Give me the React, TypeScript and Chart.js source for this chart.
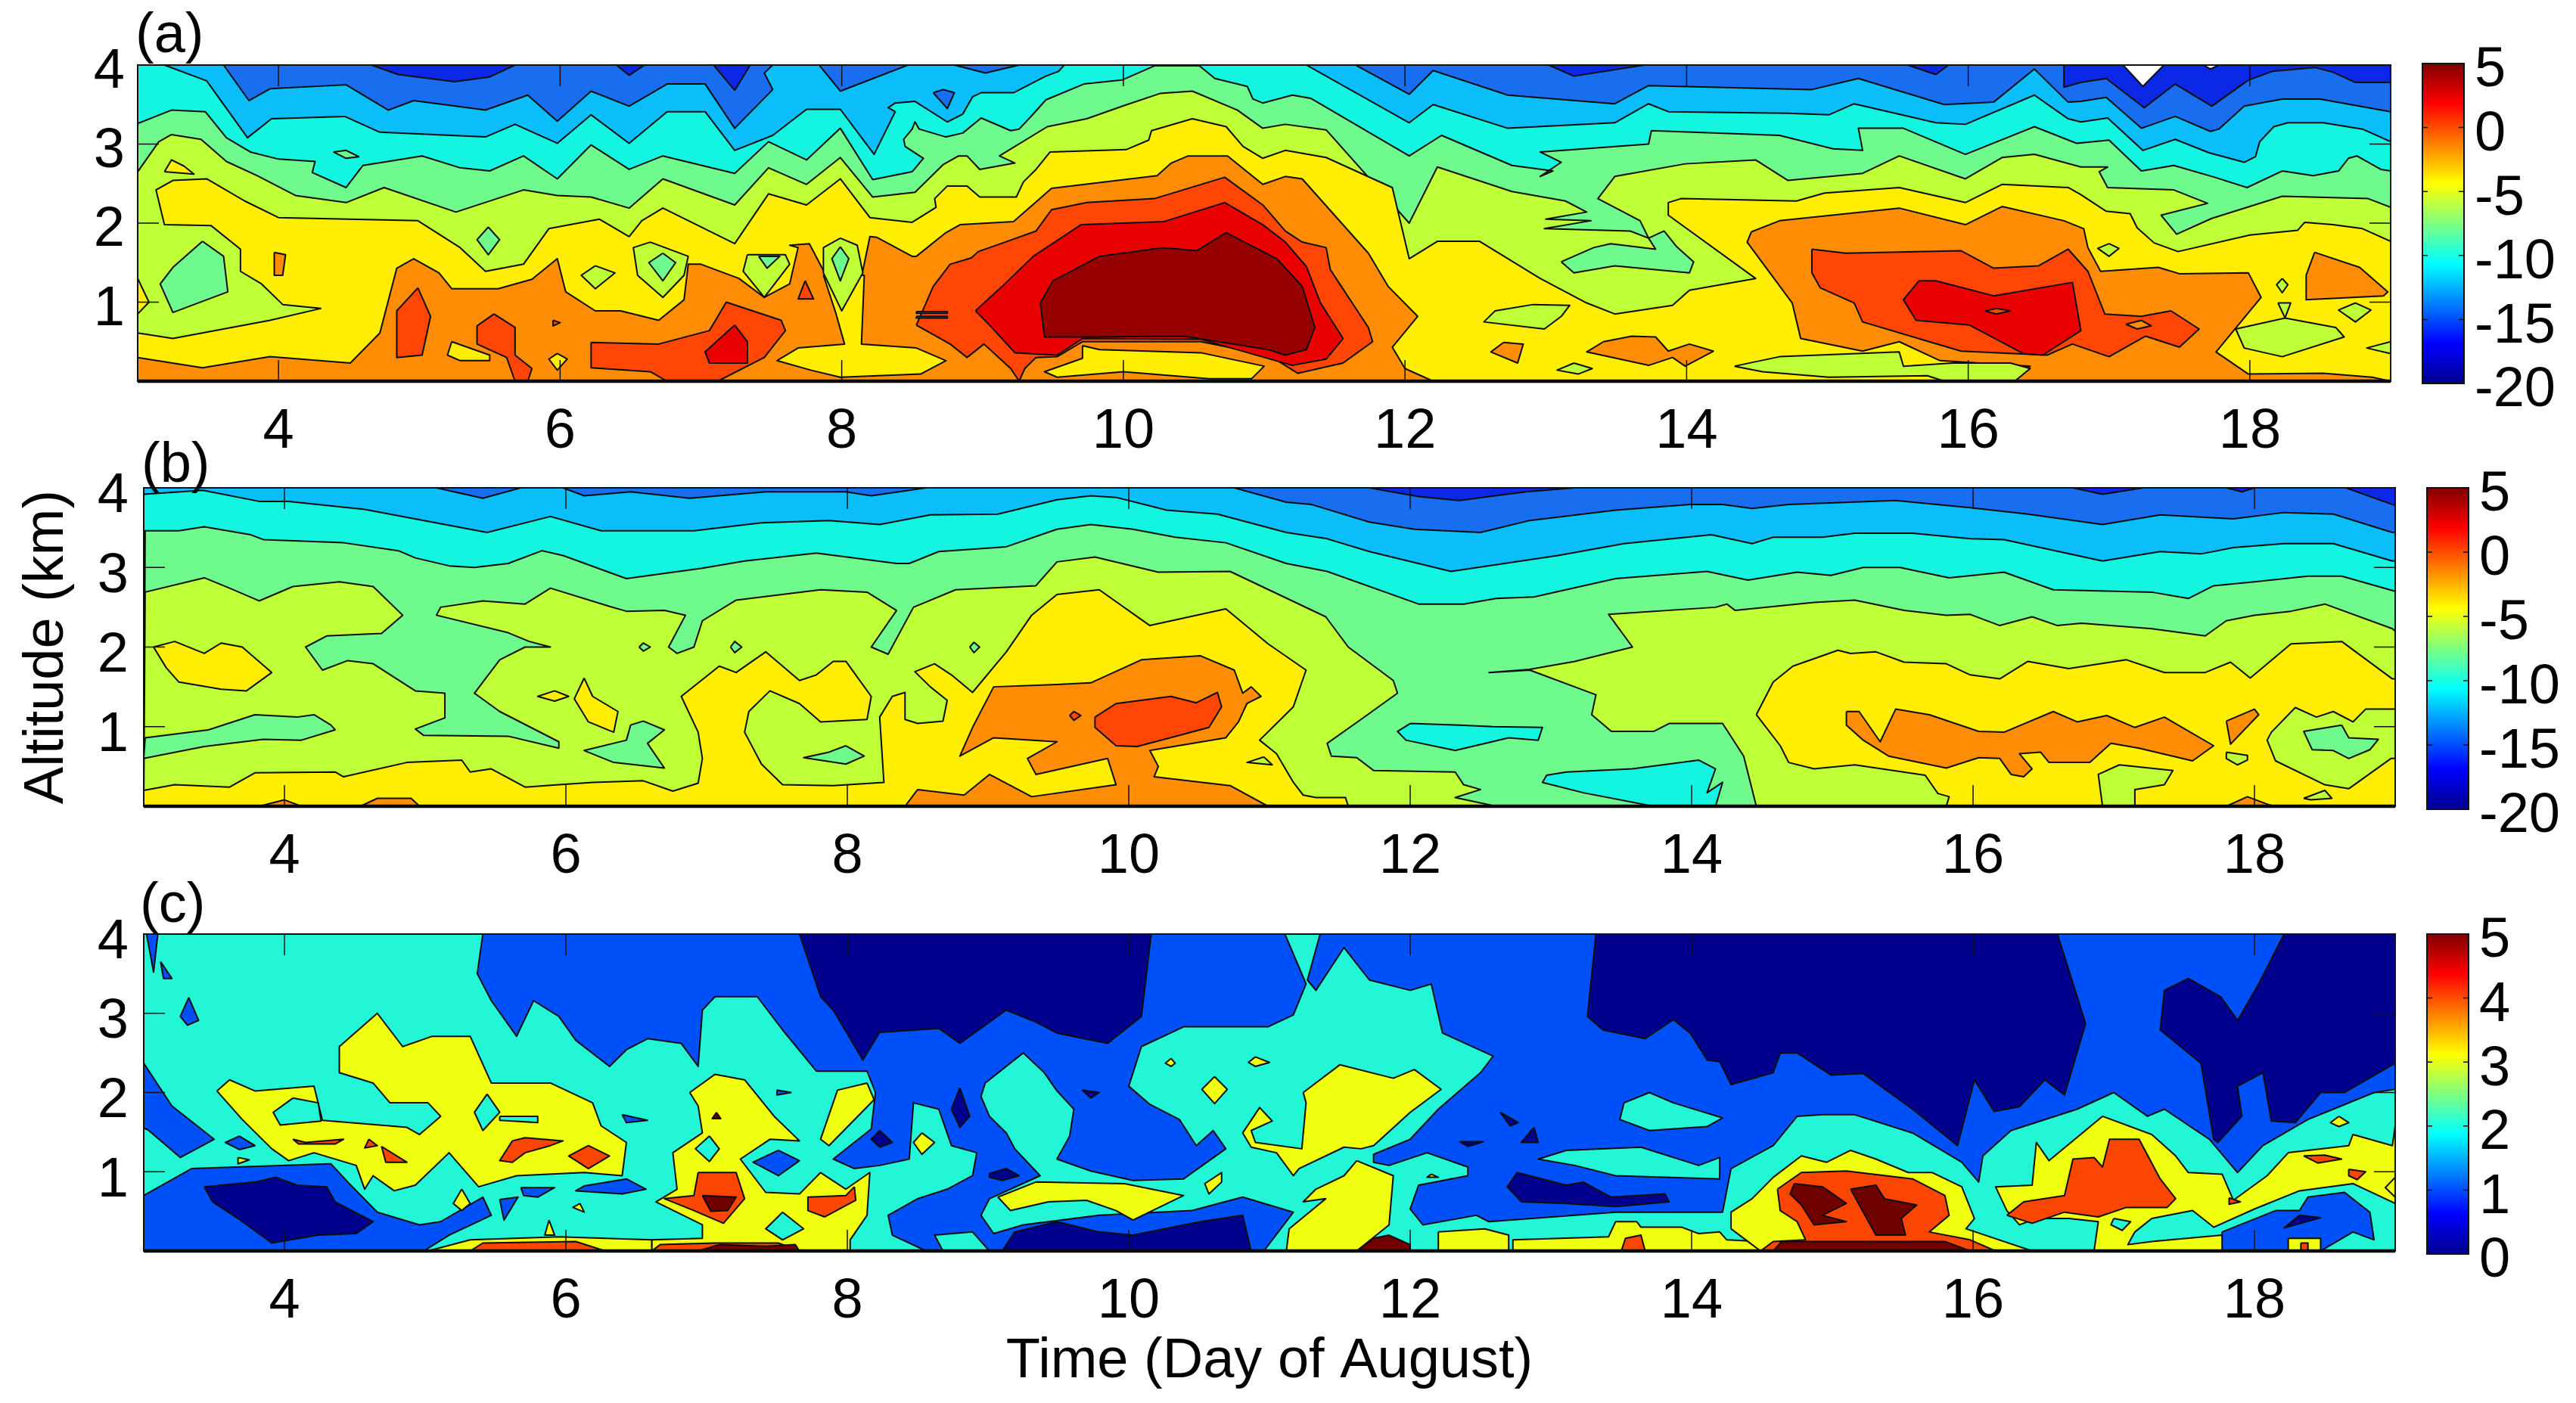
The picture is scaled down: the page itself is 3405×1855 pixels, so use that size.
import React, { useEffect, useRef } from "react";
import { Chart, registerables } from "chart.js";

Chart.register(...registerables);

const FONT = "'Liberation Sans', Arial, sans-serif";
const dayTicks = [4, 6, 8, 10, 12, 14, 16, 18];
const altTicks = [1, 2, 3, 4];
const barTicksTemp = [-20, -15, -10, -5, 0, 5];
const barTicksPct = [0, 1, 2, 3, 4, 5];
const jetStops: [number, string][] = [[0, "#00008f"], [0.125, "#0000ff"], [0.375, "#00ffff"], [0.625, "#ffff00"], [0.875, "#ff0000"], [1, "#800000"]];

const tempColors = ["#0a28e6", "#196ef0", "#0abefa", "#14f5e1", "#6efa8c", "#beff37", "#ffee00", "#ff8c05", "#ff4605", "#eb0000", "#960000", "#ffffff"];
const pctColors = ["#00008c", "#0050fa", "#23f5d7", "#f0ff0f", "#fa4600", "#6e0000"];

type Layer = [number, number[]];

const aLayers: Layer[] = [
  [1, [3,0, 3,4, 19,4, 19,0]],
  [2, [3,0, 3,4, 3.61,4, 3.79,3.55, 3.94,3.7, 4.48,3.75, 4.78,3.43, 4.96,3.55, 5.47,3.43, 5.77,3.62, 5.98,3.29, 6.22,3.67, 6.49,3.48, 6.76,3.76, 7.03,3.76, 7.24,3.2, 7.51,3.69, 7.45,3.9, 7.51,4, 7.84,4, 7.99,3.67, 8.47,4, 11.65,4, 12.03,3.63, 12.2,3.93, 12.73,3.62, 13.49,3.51, 13.73,3.74, 14.89,3.69, 15.22,3.83, 15.83,3.5, 16.18,3.53, 16.47,3.95, 16.71,3.53, 16.8,3.54, 16.98,3.59, 17.23,3.2, 17.47,3.35, 17.72,3.16, 17.78,3.19, 17.96,3.48, 18.23,3.57, 18.5,3.57, 19,3.41, 19,0]],
  [0, [4.66,4, 4.85,3.88, 5.25,3.79, 5.5,3.85, 5.68,4]],
  [0, [6.4,4, 6.49,3.87, 6.6,4]],
  [0, [7.09,4, 7.24,3.68, 7.35,4]],
  [0, [13.02,4, 13.2,3.86, 13.7,4]],
  [0, [15.57,4, 15.77,3.88, 15.86,4]],
  [0, [16.68,4, 16.68,3.72, 16.8,3.78, 16.98,3.83, 17.25,3.46, 17.47,3.76, 17.73,3.48, 17.99,3.81, 18.16,3.92, 18.46,3.97, 18.59,3.91, 18.75,3.78, 19,3.78, 19,4]],
  [1, [8.8,4, 9.02,3.9, 9.26,4]],
  [1, [8.65,3.65, 8.72,3.69, 8.8,3.65, 8.75,3.45]],
  [11, [17.1,4, 17.24,3.73, 17.39,4]],
  [11, [17.67,4, 17.72,3.95, 17.78,4]],
  [3, [3,0, 3,4, 3.19,4, 3.49,3.8, 3.78,3.08, 3.95,3.32, 4.47,3.35, 4.72,3.15, 5.47,3.09, 5.68,3.25, 5.98,3.01, 6.22,3.37, 6.49,3.01, 6.76,3.41, 7.03,3.41, 7.24,2.92, 7.51,3.11, 7.75,3.44, 7.99,3.44, 8.23,2.87, 8.38,3.41, 8.33,3.46, 8.38,3.52, 8.52,3.54, 8.75,3.28, 8.86,3.38, 8.93,3.6, 8.99,3.65, 9.22,3.65, 9.45,3.86, 9.54,3.92, 9.58,4, 11.3,4, 12.03,3.27, 12.2,3.5, 12.73,3.2, 13.49,3.27, 13.73,3.51, 13.87,3.41, 14.72,3.39, 15.01,3.37, 15.19,3.51, 15.77,3.27, 15.98,3.25, 16.47,3.62, 16.71,3.32, 16.8,3.28, 16.99,3.33, 17.24,2.92, 17.47,3.06, 17.71,2.89, 17.96,2.77, 18.04,2.84, 18.07,3.03, 18.17,3.22, 18.27,3.27, 18.52,3.27, 18.8,3.19, 19,3.03, 19,0]],
  [4, [3,0, 3,3.26, 3.24,3.43, 3.48,3.41, 3.63,3.08, 3.8,2.9, 4,2.81, 4.26,2.78, 4.24,2.64, 4.48,2.45, 4.6,2.73, 5.02,2.85, 5.29,2.7, 5.5,2.66, 5.74,2.85, 5.98,2.56, 6.22,2.99, 6.49,2.68, 6.73,2.85, 7.24,2.63, 7.48,3.03, 7.75,2.8, 7.99,3.2, 8.22,2.55, 8.5,2.65, 8.58,2.82, 8.45,2.97, 8.44,3.06, 8.5,3.19, 8.52,3.28, 8.55,3.19, 8.74,3.09, 8.86,3.14, 8.99,3.33, 9.2,3.17, 9.26,3.19, 9.36,3.38, 9.45,3.56, 9.72,3.76, 9.99,3.81, 10.22,3.99, 10.54,3.99, 10.65,3.83, 10.88,3.73, 10.92,3.57, 10.99,3.52, 11.2,3.62, 11.33,3.58, 12.03,2.85, 12.26,3.11, 12.76,2.73, 13.05,2.66, 12.96,2.59, 13.11,2.77, 12.96,2.9, 13.73,3, 13.75,3.17, 14.66,3.11, 15.04,2.94, 15.25,2.92, 15.22,3.2, 15.54,3.2, 15.98,2.87, 16.47,3.22, 16.77,3.01, 17,3.05, 17.23,2.66, 17.46,2.73, 17.75,2.58, 17.98,2.45, 18.23,2.66, 18.45,2.6, 18.63,2.66, 18.7,2.82, 18.76,2.85, 18.93,2.68, 19,2.66, 19,0]],
  [4, [4.39,2.9, 4.48,2.92, 4.57,2.84, 4.48,2.82]],
  [5, [3,0, 3,2.65, 3.15,3.03, 3.24,3.12, 3.45,3.06, 3.63,2.78, 3.85,2.6, 4.12,2.35, 4.48,2.26, 4.75,2.45, 5.26,2.14, 5.74,2.42, 5.98,2.35, 6.22,2.33, 6.49,2.19, 6.73,2.56, 7.24,2.23, 7.48,2.7, 7.75,2.49, 7.99,2.83, 8.22,2.33, 8.52,2.39, 8.72,2.74, 8.83,2.85, 8.89,2.85, 8.98,2.68, 9.23,2.76, 9.12,2.85, 9.46,3.22, 9.74,3.32, 10.01,3.49, 10.26,3.64, 10.49,3.67, 10.81,3.43, 10.99,3.2, 11.15,3.25, 11.44,3.18, 12.03,2, 12.23,2.71, 12.76,2.4, 13.14,2.28, 13.29,2.14, 13,2.05, 13.32,2.03, 12.99,1.93, 13.6,1.9, 13.73,1.81, 13.67,2.03, 13.37,2.31, 13.49,2.59, 13.99,2.75, 14.49,2.8, 14.72,2.54, 15.25,2.63, 15.51,2.85, 15.98,2.56, 16.24,2.83, 16.47,2.87, 16.8,2.71, 16.99,2.71, 16.93,2.65, 16.99,2.45, 17.46,2.42, 17.7,2.25, 17.37,2.1, 17.48,1.86, 17.73,2.06, 18.23,2.34, 18.84,2.31, 19,2.2, 19,0]],
  [4, [13.11,1.51, 13.34,1.69, 13.46,1.74, 13.78,1.67, 13.73,1.81, 13.84,1.9, 13.93,1.7, 14.05,1.51, 14.02,1.37, 13.49,1.46, 13.2,1.37]],
  [6, [3,0, 3,0.61, 3.25,0.54, 3.94,0.77, 4.3,0.92, 4.03,0.97, 3.88,1.23, 3.73,1.39, 3.73,1.67, 3.52,1.97, 3.19,1.98, 3.13,2.42, 3.25,2.54, 3.49,2.56, 3.76,2.28, 4,2.07, 4.99,2.03, 5.29,1.69, 5.47,1.39, 5.74,1.48, 5.92,1.93, 6.28,2.05, 6.49,1.83, 6.58,2.03, 6.73,2.19, 7.24,1.74, 7.48,2.37, 7.75,2.23, 7.99,2.56, 8.2,2.07, 8.5,2.01, 8.67,2.2, 8.66,2.31, 8.75,2.47, 8.89,2.47, 8.98,2.33, 9.24,2.33, 9.29,2.52, 9.38,2.68, 9.48,2.9, 10.02,2.93, 10.18,3.05, 10.2,3.17, 10.49,3.32, 10.73,3.22, 10.85,2.97, 10.99,2.82, 11.15,2.92, 11.44,2.83, 11.91,2.45, 12.03,1.55, 12.23,1.77, 12.53,1.77, 12.96,1.3, 13.29,0.99, 13.49,0.85, 13.9,0.96, 14.02,1.15, 14.49,1.3, 13.87,2.1, 13.87,2.26, 13.96,2.31, 14.78,2.28, 14.98,2.38, 15.51,2.45, 15.98,2.26, 16.24,2.49, 16.71,2.45, 16.8,2.36, 16.98,2.15, 17.15,2.12, 17.2,1.94, 17.32,1.75, 17.49,1.64, 18,1.85, 18.34,1.91, 18.39,2.01, 18.59,1.98, 18.8,1.93, 19,1.77, 19,0]],
  [6, [3,1.3, 3.08,1, 3,0.85]],
  [6, [3.19,2.65, 3.24,2.8, 3.33,2.72, 3.4,2.62]],
  [4, [3.46,1.77, 3.61,1.58, 3.64,1.13, 3.25,0.87, 3.16,1.23, 3.25,1.44]],
  [4, [5.49,1.95, 5.57,1.79, 5.49,1.6, 5.41,1.79]],
  [5, [6.25,1.46, 6.39,1.37, 6.25,1.17, 6.15,1.34]],
  [7, [3,0, 3,0.3, 3.46,0.17, 3.94,0.31, 4.51,0.23, 4.72,0.61, 4.84,1.43, 4.96,1.55, 5.14,1.37, 5.23,1.17, 5.56,1.17, 5.8,1.29, 5.98,1.55, 6.04,1.13, 6.25,0.89, 6.43,0.89, 6.7,0.77, 6.88,1.03, 6.91,1.48, 7,1.48, 7.27,1.3, 7.45,1.06, 7.63,1.23, 7.69,1.69, 7.63,1.72, 7.77,1.74, 7.87,1.4, 8.15,1.4, 8.2,1.83, 8.25,1.82, 8.5,1.58, 8.53,1.58, 8.74,1.88, 8.84,1.98, 9.22,2.02, 9.49,2.44, 10.24,2.6, 10.34,2.76, 10.46,2.85, 10.74,2.85, 10.99,2.49, 11.15,2.59, 11.27,2.56, 11.74,1.62, 11.88,1.2, 12.09,0.82, 11.91,0.43, 12,0.16, 12.2,0]],
  [6, [7.87,1.34, 8.16,1.34, 8.14,0.47, 8.53,0.42, 8.74,0.26, 8.56,0.09, 7.99,0.05, 7.78,0.14, 7.54,0.26, 7.69,0.42, 8.02,0.47, 7.96,0.85]],
  [5, [6.64,1.76, 6.91,1.58, 6.88,1.34, 6.73,1.06, 6.55,1.34, 6.52,1.69]],
  [4, [6.73,1.62, 6.82,1.5, 6.73,1.27, 6.63,1.5]],
  [5, [7.33,1.6, 7.6,1.6, 7.63,1.48, 7.45,1.06, 7.3,1.39]],
  [4, [7.41,1.58, 7.56,1.58, 7.47,1.43]],
  [5, [7.99,1.81, 8.11,1.72, 8.15,1.37, 8,0.89, 7.87,1.37, 7.87,1.69]],
  [4, [7.99,1.7, 8.05,1.55, 7.99,1.27, 7.93,1.55]],
  [7, [3.97,1.63, 4.05,1.6, 4.03,1.34, 3.97,1.34]],
  [8, [4.99,1.18, 5.08,0.82, 5.02,0.33, 4.84,0.3, 4.84,0.89]],
  [8, [5.53,0.85, 5.68,0.68, 5.68,0.33, 5.8,0.16, 5.77,0, 5.68,0, 5.62,0.3, 5.41,0.47, 5.41,0.7]],
  [6, [5.23,0.5, 5.5,0.33, 5.5,0.26, 5.29,0.26, 5.2,0.33]],
  [6, [5.98,0.35, 6.05,0.28, 5.98,0.14, 5.92,0.28]],
  [8, [6.22,0.49, 6.7,0.47, 7.06,0.64, 7.18,1, 7.57,0.77, 7.6,0.64, 7.45,0.3, 7.12,0, 6.76,0, 6.64,0.12, 6.22,0.17]],
  [9, [7.24,0.71, 7.33,0.5, 7.33,0.23, 7.06,0.23, 7.03,0.37]],
  [8, [7.74,1.27, 7.8,1.04, 7.69,1.04]],
  [8, [5.95,0.77, 6,0.74, 5.95,0.7]],
  [8, [8.53,0.71, 8.65,1.2, 8.77,1.48, 8.92,1.56, 8.97,1.64, 9.16,1.76, 9.38,1.9, 9.49,2.17, 9.74,2.26, 10.22,2.31, 10.72,2.58, 10.99,2.23, 11.15,1.9, 11.27,1.76, 11.44,1.69, 11.47,1.41, 11.74,0.68, 11.77,0.5, 11.56,0.23, 11.24,0.1, 11.03,0.33, 10.55,0.5, 9.71,0.5, 9.53,0.31, 9.38,0.3, 9.3,0.16, 9.26,0, 9.2,0.16, 9.01,0.47, 8.89,0.3, 8.77,0.47]],
  [7, [8.53,0.88, 8.75,0.88, 8.75,0.86, 8.53,0.86]],
  [7, [8.53,0.82, 8.75,0.82, 8.75,0.8, 8.53,0.8]],
  [9, [8.95,0.89, 9.14,1.2, 9.36,1.58, 9.7,1.98, 10.29,2.02, 10.72,2.26, 10.99,1.98, 11.15,1.76, 11.3,1.45, 11.4,0.99, 11.56,0.54, 11.44,0.28, 11.2,0.2, 10.55,0.53, 9.71,0.54, 9.53,0.33, 9.23,0.36, 9.05,0.71]],
  [10, [9.41,0.99, 9.5,1.27, 9.83,1.58, 10.28,1.69, 10.52,1.65, 10.73,1.88, 11.09,1.55, 11.27,1.2, 11.36,0.68, 11.3,0.4, 11.15,0.33, 11.03,0.4, 10.43,0.57, 9.77,0.56, 9.44,0.56]],
  [6, [9.71,0.45, 9.83,0.4, 10.55,0.36, 11,0.19, 10.91,0.03, 10.61,0.03, 10,0.12, 9.53,0.05, 9.44,0.12, 9.71,0.29]],
  [7, [14.46,1.89, 14.66,2.03, 15.51,2.19, 15.98,1.98, 16.24,2.21, 16.68,2.03, 16.82,1.93, 16.85,1.69, 16.94,1.39, 17.35,1.44, 17.5,1.36, 17.99,1.37, 18.08,1.06, 17.76,0.37, 17.99,0.09, 18.52,0.1, 18.87,0.05, 19,0, 16.33,0, 16.44,0.19, 15.8,0.26, 15.51,0.5, 15.25,0.38, 14.81,0.54, 14.75,0.99, 14.43,1.76]],
  [7, [18.46,1.63, 18.78,1.44, 18.98,1.13, 18.95,1.08, 18.4,1.03, 18.4,1.34]],
  [7, [12.7,0.49, 12.84,0.47, 12.8,0.23, 12.61,0.37]],
  [7, [13.61,0.57, 13.78,0.56, 13.87,0.38, 14.02,0.47, 14.19,0.38, 13.99,0.19, 13.9,0.3, 13.73,0.2, 13.29,0.37, 13.41,0.5]],
  [5, [12.91,0.97, 13.17,0.96, 13.11,0.82, 12.99,0.66, 12.56,0.75, 12.64,0.89]],
  [5, [13.2,0.23, 13.33,0.16, 13.23,0.09, 13.08,0.14]],
  [5, [14.34,0.19, 14.66,0.31, 15.51,0.37, 15.54,0.19, 15.89,0.23, 16.3,0.23, 16.44,0.16, 16.33,0, 15.83,0, 15.71,0.07, 15.01,0.05, 14.54,0.12]],
  [5, [18.2,0.99, 18.29,0.99, 18.25,0.8, 18.61,0.68, 18.67,0.56, 18.23,0.31, 17.96,0.42, 17.9,0.66, 18.25,0.8]],
  [5, [18.23,1.3, 18.27,1.22, 18.23,1.12, 18.19,1.22]],
  [5, [18.75,0.99, 18.86,0.9, 18.75,0.75, 18.63,0.9]],
  [5, [19,0.5, 18.83,0.42, 19,0.35]],
  [5, [17,1.74, 17.07,1.68, 17,1.58, 16.92,1.68]],
  [8, [14.89,1.67, 15.13,1.62, 15.95,1.65, 16.18,1.43, 16.5,1.46, 16.71,1.67, 16.85,1.39, 16.97,0.85, 17.23,0.82, 17.44,0.89, 17.64,0.66, 17.5,0.43, 17.26,0.57, 17,0.31, 16.74,0.47, 16.56,0.33, 15.95,0.38, 15.74,0.49, 15.25,0.75, 15.19,0.99, 14.95,1.18, 14.89,1.37]],
  [9, [15.65,1.27, 15.77,1.27, 16.18,1.08, 16.74,1.25, 16.8,0.64, 16.53,0.33, 16.39,0.35, 16.01,0.71, 15.63,0.77, 15.54,1.03]],
  [8, [16.12,0.89, 16.2,0.92, 16.3,0.89, 16.2,0.85]],
  [7, [17.12,0.72, 17.23,0.77, 17.3,0.7, 17.2,0.66]],
];

const bLayers: Layer[] = [
  [2, [3,0, 3,4, 19,4, 19,0]],
  [1, [5.08,4, 5.41,3.87, 5.68,4]],
  [1, [5.98,4, 6.13,3.9, 6.46,3.95, 6.88,3.87, 7.42,3.95, 7.99,3.95, 8.17,3.9, 8.56,4]],
  [1, [10.75,4, 11.12,3.82, 11.3,3.79, 11.71,3.57, 12.03,3.48, 12.5,3.44, 12.85,3.59, 13.46,3.72, 13.99,3.79, 14.22,3.79, 14.43,3.74, 14.69,3.79, 15.45,3.84, 15.98,3.75, 16.39,3.67, 16.92,3.54, 17.33,3.66, 17.85,3.61, 18.21,3.69, 18.56,3.67, 18.98,3.44, 19,3.44, 19,4]],
  [0, [11.71,4, 12.06,3.89, 12.35,3.84, 12.82,3.95, 13.17,4]],
  [0, [16.71,4, 16.92,3.92, 17.21,4]],
  [0, [17.8,4, 17.91,3.95, 18,4]],
  [0, [18.65,4, 18.98,3.79, 19,3.78, 19,4]],
  [3, [3,0, 3,3.92, 3.42,3.97, 3.82,3.83, 4.03,3.83, 4.57,3.73, 5.44,3.44, 5.89,3.64, 6.25,3.46, 6.91,3.46, 7.39,3.56, 7.87,3.59, 8.23,3.54, 8.59,3.66, 9.07,3.67, 9.49,3.85, 9.73,3.9, 9.91,3.88, 10.27,3.72, 10.63,3.67, 11.12,3.44, 11.41,3.36, 11.71,3.2, 12.29,2.95, 13.05,3.15, 13.52,3.3, 14.14,3.41, 14.43,3.3, 14.58,3.38, 14.93,3.38, 15.16,3.43, 15.57,3.43, 15.98,3.36, 16.22,3.35, 16.92,3.08, 17.33,3.2, 17.62,3.17, 17.85,3.25, 18.21,3.3, 18.56,3.3, 18.98,3.08, 19,3.08, 19,0]],
  [4, [3,0, 3.01,3.46, 3.25,3.46, 3.43,3.51, 3.76,3.41, 3.85,3.35, 4.42,3.31, 4.81,3.21, 4.93,3.12, 5.17,3.02, 5.35,3, 5.59,3.05, 5.83,3.21, 5.98,3.15, 6.43,2.86, 6.97,2.99, 7.27,3.08, 7.78,3.18, 8.35,3.05, 8.44,3.05, 8.65,3.2, 9.13,3.26, 9.49,3.48, 9.73,3.54, 10.03,3.48, 10.33,3.38, 10.69,3.31, 11.12,3.05, 11.41,2.95, 12.06,2.54, 12.38,2.54, 12.61,2.61, 12.88,2.63, 13.46,2.86, 14.11,2.95, 14.4,2.84, 14.75,2.94, 14.99,2.9, 15.22,3, 15.48,3, 15.83,2.87, 16.22,2.94, 16.57,2.72, 17.27,2.69, 17.53,2.61, 17.71,2.77, 18,2.82, 18.38,2.89, 18.62,2.89, 18.98,2.71, 19,2.7, 19,0]],
  [5, [3,0, 3.01,2.69, 3.43,2.87, 3.61,2.74, 3.82,2.58, 4.06,2.76, 4.39,2.82, 4.63,2.76, 4.84,2.4, 4.69,2.17, 4.3,2.14, 4.15,2, 4.27,1.71, 4.45,1.83, 4.63,1.79, 4.93,1.45, 5.14,1.42, 5.14,1.11, 4.93,0.97, 4.99,0.89, 5.59,0.88, 5.95,0.73, 5.95,0.81, 5.53,1.19, 5.35,1.42, 5.53,1.84, 5.71,2, 5.89,2, 5.74,2.07, 5.59,2.18, 5.08,2.4, 5.11,2.5, 5.41,2.58, 5.71,2.54, 5.89,2.74, 6.31,2.51, 6.43,2.45, 6.7,2.46, 6.85,2.4, 6.73,2, 6.79,1.92, 6.91,2, 6.97,2.33, 7.21,2.59, 7.81,2.72, 8.14,2.69, 8.35,2.46, 8.17,2, 8.29,1.91, 8.47,2.5, 8.77,2.72, 9.34,2.77, 9.49,3.07, 9.76,3.13, 10.21,2.94, 10.72,2.95, 11.4,2.38, 11.56,2, 11.88,1.58, 11.91,1.42, 11.65,1.09, 11.41,0.79, 11.44,0.63, 11.62,0.61, 11.74,0.45, 12.32,0.43, 12.38,0.27, 12.5,0.21, 12.32,0.11, 12.61,0]],
  [5, [14.46,0, 14.37,0.63, 14.22,1.04, 13.84,1.04, 13.73,0.94, 13.43,0.94, 13.29,1.15, 13.32,1.4, 12.85,1.71, 12.56,1.68, 12.85,1.72, 13.17,1.82, 13.58,2, 13.41,2.41, 14.17,2.5, 14.25,2.54, 14.31,2.46, 14.87,2.56, 15.16,2.59, 15.51,2.46, 15.81,2.4, 15.98,2.41, 16.19,2.27, 16.42,2.38, 16.6,2.27, 16.77,2.3, 17.27,2.23, 17.65,2.14, 17.8,2.33, 18,2.4, 18.26,2.45, 18.5,2.54, 18.98,2.23, 19,2.2, 19,0]],
  [4, [3.01,0.86, 3.46,0.96, 3.79,1.15, 4.09,1.12, 4.21,1.15, 4.33,1.02, 4.36,0.96, 4.12,0.83, 3.85,0.84, 3.43,0.75, 3,0.6]],
  [4, [6.55,1.07, 6.7,0.96, 6.58,0.79, 6.7,0.48, 6.34,0.55, 6.13,0.7, 6.43,0.83, 6.46,1.02]],
  [4, [7.99,0.76, 8.12,0.63, 7.99,0.53, 7.69,0.61, 7.87,0.68]],
  [4, [6.52,2, 6.55,2.05, 6.6,2, 6.55,1.95]],
  [4, [7.17,2, 7.2,2.07, 7.25,2, 7.2,1.93]],
  [4, [8.87,2, 8.9,2.06, 8.94,2, 8.9,1.93]],
  [6, [3.07,2, 3.22,2.07, 3.43,1.92, 3.55,2.05, 3.7,2, 3.91,1.68, 3.73,1.45, 3.55,1.47, 3.25,1.56, 3.16,1.74]],
  [6, [6.13,1.61, 6.19,1.38, 6.37,1.19, 6.34,0.93, 6.16,1.06, 6.06,1.35]],
  [6, [5.92,1.45, 6.02,1.38, 5.92,1.32, 5.8,1.38]],
  [6, [3,0, 3,0.2, 3.22,0.27, 3.61,0.24, 3.79,0.42, 4.36,0.43, 4.42,0.37, 4.87,0.55, 5.26,0.58, 5.32,0.43, 5.47,0.47, 5.71,0.24, 5.95,0.27, 6.19,0.3, 6.55,0.32, 6.76,0.19, 6.94,0.29, 6.97,0.6, 6.94,0.93, 6.82,1.38, 7.09,1.76, 7.21,1.68, 7.42,1.94, 7.66,1.58, 7.78,1.65, 7.9,1.82, 7.99,1.82, 8.17,1.38, 8.14,1.09, 7.81,1.06, 7.66,1.29, 7.45,1.45, 7.3,1.19, 7.27,0.93, 7.39,0.53, 7.54,0.27, 7.9,0.26, 8.26,0.3, 8.23,1.12, 8.32,1.38, 8.41,1.43, 8.41,1.09, 8.5,1.04, 8.68,1.07, 8.71,1.33, 8.59,1.5, 8.48,1.69, 8.62,1.79, 8.74,1.65, 8.89,1.43, 9.13,1.94, 9.31,2.4, 9.49,2.66, 9.79,2.72, 10.15,2.27, 10.69,2.48, 10.99,2.04, 11.26,1.71, 11.17,1.25, 10.93,0.83, 11.05,0.66, 11.17,0.3, 11.24,0.14, 11.33,0.11, 11.54,0.11, 11.56,0]],
  [5, [10.96,0.62, 11.02,0.52, 10.84,0.55]],
  [6, [14.46,1.15, 14.58,1.56, 14.72,1.76, 15.04,1.96, 15.13,1.92, 15.31,1.94, 15.51,1.81, 15.81,1.79, 15.98,1.65, 16.19,1.6, 16.39,1.82, 16.68,1.73, 17.09,1.84, 17.36,1.68, 17.65,1.68, 17.83,1.81, 17.97,1.61, 18.26,2.04, 18.62,2.07, 18.98,1.6, 19,1.6, 19,1.22, 18.79,1.22, 18.7,1.06, 18.56,1.19, 18.44,1.12, 18.29,1.24, 18.12,0.93, 18.09,0.83, 18.15,0.57, 18.5,0.27, 18.67,0.22, 18.97,0.6, 19,0.6, 19,0, 17.15,0, 17.15,0.21, 17.36,0.27, 17.42,0.45, 17.04,0.52, 16.89,0.4, 16.92,0, 15.81,0, 15.83,0.12, 15.75,0.16, 15.66,0.39, 15.16,0.52, 14.87,0.47, 14.69,0.55, 14.63,0.76]],
  [4, [18.62,1.02, 18.67,0.86, 18.88,0.84, 18.82,0.71, 18.67,0.6, 18.56,0.7, 18.41,0.71, 18.35,0.94]],
  [5, [17.8,0.68, 17.95,0.64, 17.95,0.58, 17.88,0.52, 17.8,0.6]],
  [5, [18.35,0.1, 18.5,0.2, 18.55,0.1, 18.4,0.08]],
  [3, [12,1.04, 12.35,1.02, 12.59,1, 12.94,0.99, 12.91,0.83, 12.7,0.86, 12.32,0.7, 11.97,0.83, 11.91,0.94]],
  [3, [13.11,0.43, 13.58,0.47, 14.05,0.58, 14.17,0.47, 14.11,0.17, 14.22,0.3, 14.17,0, 13.7,0.01, 13.23,0.17, 12.94,0.3, 12.97,0.39]],
  [7, [8.89,0.99, 9.04,1.5, 9.49,1.53, 9.73,1.55, 10.09,1.84, 10.51,1.89, 10.75,1.71, 10.81,1.42, 10.87,1.5, 10.94,1.38, 10.84,1.29, 10.78,1.06, 10.69,0.86, 10.15,0.7, 10.21,0.5, 10.18,0.37, 10.72,0.26, 10.99,0, 8.41,0, 8.5,0.21, 8.83,0.14, 9.01,0.4, 9.31,0.12, 9.91,0.27, 9.85,0.6, 9.34,0.4, 9.28,0.6, 9.49,0.81, 9.04,0.86, 8.8,0.63]],
  [8, [9.76,1.12, 9.91,1.29, 10.3,1.38, 10.48,1.3, 10.63,1.43, 10.66,1.25, 10.57,0.99, 10.36,0.89, 10.06,0.75, 9.91,0.76, 9.76,0.99]],
  [7, [3.82,0, 4,0.08, 4.12,0]],
  [7, [4.54,0, 4.66,0.1, 4.9,0.1, 4.96,0]],
  [8, [9.58,1.14, 9.61,1.19, 9.66,1.14, 9.61,1.08]],
  [7, [15.1,1.19, 15.19,1.19, 15.34,0.81, 15.45,1.22, 15.69,1.15, 16.04,0.94, 16.22,0.93, 16.57,1.19, 16.74,1.06, 16.95,1.14, 17.15,0.99, 17.36,1.12, 17.71,0.76, 17.56,0.57, 17.18,0.73, 16.98,0.79, 16.83,0.55, 16.54,0.55, 16.48,0.68, 16.33,0.66, 16.42,0.47, 16.36,0.37, 16.27,0.4, 16.19,0.6, 16.04,0.61, 15.81,0.48, 15.4,0.63, 15.22,0.83, 15.1,1.02]],
  [7, [17.8,1.07, 18,1.22, 18.03,1.15, 17.83,0.78]],
  [7, [17.8,0, 17.95,0.12, 18.1,0.02, 18.15,0]],
];

const cLayers: Layer[] = [
  [2, [3,0, 3,4, 19,4, 19,0]],
  [1, [3,2.37, 3.2,1.83, 3.5,1.41, 3.26,1.18, 3.03,1.53, 3,1.55]],
  [1, [3.02,4, 3.1,4, 3.07,3.52]],
  [1, [3.12,3.65, 3.2,3.44, 3.14,3.44]],
  [1, [3.32,3.2, 3.39,2.91, 3.31,2.85, 3.26,2.96]],
  [1, [3,0.7, 3.34,1.04, 4.33,1.1, 4.45,0.87, 4.66,0.49, 4.96,0.33, 5.11,0.37, 5.41,0.68, 5.47,0.45, 5.17,0.2, 4.99,0, 3,0]],
  [0, [3.43,0.81, 3.79,0.87, 3.94,0.93, 4.09,0.83, 4.3,0.81, 4.36,0.62, 4.63,0.37, 4.51,0.22, 4.24,0.2, 3.91,0.1, 3.67,0.41, 3.49,0.62]],
  [1, [5.41,4, 5.37,3.5, 5.47,3.16, 5.65,2.71, 5.77,3.16, 5.95,2.96, 6.07,2.66, 6.31,2.33, 6.43,2.54, 6.58,2.68, 6.82,2.62, 6.94,2.33, 6.97,3.04, 7.06,3.21, 7.36,3.21, 7.54,2.79, 7.78,2.27, 8.14,2.27, 8.2,2, 8.17,1.54, 7.9,1.16, 8.05,1.04, 8.23,1.08, 8.44,1.16, 8.47,1.87, 8.65,1.79, 8.74,1.33, 8.92,1.24, 8.89,0.95, 8.71,0.78, 8.5,0.66, 8.29,0.45, 8.32,0.2, 8.56,0, 8.68,0, 8.62,0.2, 8.89,0.24, 9.01,0, 10.96,0, 11.17,0.49, 10.81,0.68, 10.45,0.51, 9.79,0.45, 9.25,0.33, 9.04,0.22, 8.95,0.45, 9.01,0.66, 9.37,0.95, 9.19,1.29, 9.13,1.49, 9.01,1.7, 8.95,1.95, 8.98,2.12, 9.25,2.5, 9.4,2.25, 9.49,2.02, 9.61,1.79, 9.58,1.45, 9.49,1.16, 9.73,1.01, 10.03,0.89, 10.39,0.91, 10.69,1.29, 10.6,1.52, 10.48,1.33, 10.36,1.66, 10.15,1.85, 10,2.08, 10.09,2.58, 10.39,2.83, 10.99,2.83, 11.17,2.98, 11.26,3.37, 11.11,4, 11.36,4, 11.27,3.42, 11.33,3.29, 11.53,3.83, 11.71,3.42, 12,3.29, 12.15,3.37, 12.23,2.75, 12.59,2.46, 12.5,2.25, 12.2,1.79, 12,1.41, 11.74,1.22, 11.74,1.12, 11.85,1.08, 12.12,1.24, 12.41,1.06, 12.41,0.95, 12.06,0.83, 12,0.53, 12.09,0.33, 12.47,0.45, 12.56,0.37, 13.46,0.49, 14.22,0.49, 14.28,1.04, 14.58,1.33, 14.75,1.7, 14.93,1.72, 15.16,1.72, 15.57,1.49, 15.92,1.12, 16.04,0.87, 16.07,1.2, 16.27,1.52, 16.74,1.79, 17,2, 17.24,1.7, 17.36,1.79, 17.68,1.41, 17.88,0.99, 18.06,1.33, 18.38,1.66, 18.56,1.79, 18.85,2, 19,2.04, 19,4]],
  [2, [13.7,2, 13.87,1.87, 14.22,1.68, 14.11,1.57, 13.7,1.52, 13.49,1.66, 13.52,1.87]],
  [2, [13.11,1.27, 13.64,1.31, 14.05,1.08, 14.2,1.18, 14.2,0.91, 13.46,0.95, 13.17,1.08, 12.91,1.16]],
  [0, [7.66,4, 7.81,3.21, 7.9,3.04, 8.11,2.41, 8.23,2.76, 8.65,2.81, 8.8,2.62, 9.13,3.04, 9.34,2.89, 9.49,2.75, 9.85,2.62, 10.09,2.96, 10.16,4]],
  [0, [13.32,4, 13.26,2.96, 13.37,2.79, 13.67,2.68, 13.87,2.92, 13.99,2.75, 14.11,2.41, 14.2,2.39, 14.28,2.1, 14.58,2.25, 14.63,2.5, 14.75,2.5, 14.99,2.22, 15.22,2.24, 15.57,1.79, 15.89,1.33, 16.01,2.16, 16.15,1.76, 16.33,1.82, 16.51,2.16, 16.65,1.97, 16.8,2.87, 16.6,4]],
  [0, [18.21,4, 18.03,3.37, 17.88,2.91, 17.76,3.21, 17.53,3.44, 17.36,3.29, 17.33,2.79, 17.62,2.37, 17.71,1.41, 17.74,1.37, 17.91,1.7, 17.88,2.08, 18.06,2.25, 18.12,1.64, 18.29,1.62, 18.47,2, 18.64,2, 19,2.37, 19,4]],
  [0, [8.8,2.06, 8.87,1.7, 8.8,1.56, 8.74,1.79]],
  [0, [9.67,2.03, 9.79,2, 9.73,1.93]],
  [0, [8.23,1.52, 8.32,1.37, 8.23,1.31, 8.17,1.41]],
  [0, [9.01,0.98, 9.13,1.04, 9.22,0.95, 9.1,0.89, 9.01,0.93]],
  [0, [12.64,1.75, 12.77,1.62, 12.71,1.58]],
  [0, [12.35,1.38, 12.52,1.38, 12.41,1.32]],
  [0, [12.88,1.56, 12.91,1.37, 12.79,1.37]],
  [0, [12.76,0.99, 13.11,0.83, 13.23,0.87, 13.43,0.68, 13.81,0.72, 13.84,0.62, 13.46,0.56, 13.11,0.6, 12.79,0.62, 12.69,0.81]],
  [0, [9.1,0, 9.19,0.24, 9.49,0.37, 9.79,0.24, 10.03,0.2, 10.51,0.37, 10.81,0.45, 10.87,0]],
  [3, [3.52,2.02, 3.61,2.16, 3.79,2.02, 4.21,2.08, 4.27,1.65, 4.87,1.56, 4.96,1.47, 5.11,1.7, 5.02,1.87, 4.75,1.87, 4.63,2.12, 4.39,2.25, 4.39,2.58, 4.66,3, 4.84,2.58, 5.05,2.71, 5.32,2.71, 5.47,2.12, 5.89,2.12, 6.19,1.87, 6.25,1.58, 6.43,1.37, 6.4,0.95, 6.13,0.99, 5.65,0.95, 5.38,0.81, 5.17,1.24, 4.93,0.83, 4.78,0.76, 4.63,0.95, 4.57,0.78, 4.51,1.08, 4.21,1.24, 4.03,1.14, 3.91,1.29, 3.7,1.66]],
  [2, [4.06,1.93, 4.24,1.87, 4.26,1.64, 3.97,1.59, 3.92,1.75]],
  [2, [5.44,1.98, 5.53,1.75, 5.41,1.52, 5.35,1.75]],
  [2, [5.53,1.7, 5.8,1.7, 5.8,1.62, 5.53,1.65]],
  [4, [4.06,1.41, 4.15,1.37, 4.42,1.41, 4.36,1.35, 4.1,1.35]],
  [4, [4.6,1.41, 4.66,1.33, 4.57,1.3]],
  [4, [4.69,1.32, 4.87,1.12, 4.72,1.12]],
  [4, [5.62,1.39, 5.71,1.43, 5.98,1.39, 5.89,1.33, 5.71,1.24, 5.62,1.12, 5.53,1.14]],
  [4, [6.16,1.33, 6.31,1.2, 6.16,1.04, 6.02,1.2]],
  [1, [3.68,1.45, 3.79,1.33, 3.68,1.28, 3.58,1.37]],
  [1, [6.4,1.72, 6.58,1.65, 6.43,1.62]],
  [1, [7.5,2.03, 7.6,2, 7.5,1.97]],
  [1, [7.51,1.27, 7.66,1.14, 7.51,0.95, 7.33,1.12]],
  [1, [6.43,0.91, 6.57,0.78, 6.4,0.72, 6.07,0.76, 6.13,0.82]],
  [1, [5.68,0.8, 5.92,0.8, 5.8,0.68, 5.7,0.7]],
  [1, [5.53,0.65, 5.66,0.68, 5.56,0.39]],
  [3, [3.67,1.18, 3.75,1.15, 3.67,1.1]],
  [3, [5.26,0.78, 5.32,0.6, 5.26,0.51, 5.2,0.6]],
  [3, [6.1,0.6, 6.13,0.49, 6.05,0.55]],
  [3, [5.88,0.39, 5.92,0.2, 5.85,0.2]],
  [3, [8.53,1.49, 8.62,1.37, 8.53,1.22, 8.47,1.37]],
  [3, [8.14,2.12, 8.19,1.91, 7.87,1.33, 7.81,1.41, 7.93,2.03]],
  [3, [6.88,2, 7.06,2.23, 7.27,2.16, 7.48,1.7, 7.66,1.39, 7.45,1.41, 7.24,1.16, 7.42,0.74, 7.66,0.72, 7.81,0.99, 7.99,0.78, 8.16,0.99, 8.14,0.45, 8.02,0.14, 8.02,0, 6.61,0, 6.61,0.14, 6.97,0.16, 6.97,0.33, 6.64,0.62, 6.79,0.78, 6.76,1.24, 6.97,1.49, 6.94,1.83]],
  [2, [7.02,1.45, 7.09,1.29, 7.02,1.13, 6.92,1.29]],
  [2, [7.54,0.49, 7.69,0.28, 7.54,0.14, 7.42,0.28]],
  [4, [6.94,0.99, 7.21,0.99, 7.27,0.66, 7.12,0.35, 6.91,0.51, 6.7,0.66, 6.91,0.7]],
  [5, [6.97,0.7, 7.21,0.68, 7.15,0.51, 7.03,0.5]],
  [4, [8.05,0.81, 8.06,0.64, 7.84,0.43, 7.72,0.51, 7.72,0.68, 7.99,0.7]],
  [5, [7.07,1.75, 7.1,1.67, 7.04,1.67]],
  [3, [5.02,0, 5.32,0.14, 5.95,0.18, 6.61,0.14, 6.61,0]],
  [4, [5.32,0, 5.41,0.1, 6.07,0.12, 6.28,0]],
  [4, [6.61,0, 6.67,0.08, 7.06,0.1, 7.51,0.1, 7.66,0]],
  [5, [6.94,0, 7.09,0.08, 7.42,0.06, 7.63,0.08, 7.66,0]],
  [3, [9.07,0.68, 9.34,0.87, 9.97,0.85, 10.39,0.7, 10.03,0.39, 9.91,0.51, 9.7,0.64, 9.43,0.62, 9.16,0.51]],
  [3, [11.24,2, 11.5,2.35, 11.88,2.18, 12.03,2.29, 12.22,2.04, 12,1.75, 11.74,1.33, 11.65,1.29, 11.53,1.31, 11.21,1.04, 11.17,0.95, 11.05,1.24, 10.87,1.31, 10.81,1.49, 10.93,1.81, 11.02,1.64, 10.87,1.52, 10.9,1.37, 11.23,1.29, 11.26,1.87]],
  [3, [10.61,2.2, 10.7,2.04, 10.61,1.86, 10.52,2.04]],
  [3, [10.3,2.43, 10.33,2.37, 10.3,2.33, 10.26,2.37]],
  [3, [10.9,2.45, 11,2.38, 10.9,2.33, 10.85,2.38]],
  [3, [10.66,0.99, 10.66,0.87, 10.57,0.72, 10.54,0.85]],
  [3, [11.62,1.14, 11.88,0.95, 11.85,0.33, 11.62,0, 11.12,0, 11.14,0.28, 11.4,0.66, 11.24,0.62, 11.33,0.78, 11.53,0.95]],
  [5, [11.62,0, 11.74,0.16, 11.85,0.2, 12,0.08, 12,0]],
  [3, [12.2,0.24, 12.53,0.28, 12.7,0.2, 12.7,0, 12.2,0]],
  [3, [12.73,0, 12.73,0.14, 13.41,0.18, 13.46,0.37, 13.61,0.37, 13.64,0.3, 13.93,0.3, 14.05,0.22, 14.2,0.24, 14.25,0.14, 14.49,0.12, 14.55,0]],
  [4, [13.5,0, 13.53,0.16, 13.64,0.2, 13.67,0]],
  [3, [14.28,0.28, 14.28,0.49, 14.43,0.66, 14.58,0.93, 14.78,1.2, 14.96,1.12, 15.13,1.27, 15.31,1.16, 15.54,0.99, 15.71,0.99, 15.92,0.81, 16.01,0.41, 15.95,0.28, 16.42,0, 14.49,0]],
  [4, [14.61,0.78, 14.78,0.99, 15.1,1.01, 15.57,0.91, 15.8,0.7, 15.83,0.45, 15.69,0.24, 15.98,0.14, 16.16,0, 14.49,0, 14.58,0.12, 14.81,0.14, 14.75,0.37, 14.63,0.51]],
  [5, [14.73,0.85, 14.93,0.81, 15.1,0.6, 14.93,0.45, 15.1,0.37, 14.87,0.33, 14.78,0.58, 14.7,0.72]],
  [5, [15.13,0.78, 15.31,0.83, 15.37,0.66, 15.6,0.58, 15.49,0.41, 15.52,0.2, 15.31,0.2, 15.22,0.49]],
  [5, [14.58,0, 14.64,0.12, 15.8,0.12, 15.98,0]],
  [3, [16.24,0.51, 16.16,0.81, 16.42,0.83, 16.45,1.37, 16.54,1.14, 16.92,1.7, 17.27,1.47, 17.44,1.2, 17.53,0.99, 17.77,0.97, 17.85,0.64, 18.09,0.95, 18.24,1.24, 18.67,1.33, 18.7,1.47, 18.98,1.33, 19,1.58, 19,0.6, 18.7,0.85, 18.32,0.76, 18,0.53, 17.71,0.3, 17.56,0.51, 17.27,0.41, 17.15,0.24, 17.1,0.08, 17.27,0.12, 17.77,0.2, 17.8,0, 16.86,0, 16.89,0.37, 16.68,0.41, 16.45,0.41, 16.33,0.33]],
  [4, [16.24,0.45, 16.36,0.62, 16.65,0.7, 16.71,1.16, 16.86,1.18, 16.92,1.06, 16.97,1.41, 17.18,1.41, 17.33,0.91, 17.44,0.66, 17.38,0.55, 17.09,0.55, 16.89,0.43, 16.65,0.49, 16.42,0.35]],
  [4, [18.35,1.2, 18.5,1.21, 18.62,1.16, 18.45,1.11]],
  [4, [18.67,1.03, 18.79,1, 18.73,0.9, 18.67,0.95]],
  [4, [17.82,0.67, 17.9,0.62, 17.82,0.59]],
  [3, [18.6,1.7, 18.67,1.62, 18.6,1.57, 18.54,1.62]],
  [2, [17,0.41, 17.12,0.37, 17.06,0.26, 16.98,0.33]],
  [1, [17.77,0.24, 18.15,0.51, 18.32,0.51, 18.38,0.68, 18.64,0.74, 18.82,0.49, 18.85,0.14, 18.7,0.24, 18.47,0, 17.77,0]],
  [0, [18.32,0.45, 18.47,0.42, 18.21,0.29]],
  [3, [18.24,0.16, 18.47,0.16, 18.47,0, 18.24,0]],
  [4, [18.33,0.1, 18.38,0.1, 18.38,0, 18.33,0]],
  [3, [19,0.93, 19,0.68, 18.93,0.8]],
  [3, [12.15,0.97, 12.2,0.93, 12.12,0.93]],
];

const framePlugin = {
  id: "frame",
  afterDatasetsDraw(chart: any, _a: any, o: any) {
    const { ctx, chartArea: r, scales } = chart;
    ctx.save();
    ctx.strokeStyle = "#111";
    ctx.lineWidth = 1.5;
    const len = o.tick;
    if (scales.x && scales.x.options.display) {
      scales.x.ticks.forEach((t: any) => {
        const p = scales.x.getPixelForValue(t.value);
        ctx.beginPath();
        ctx.moveTo(p, r.top); ctx.lineTo(p, r.top + len);
        ctx.moveTo(p, r.bottom); ctx.lineTo(p, r.bottom - len);
        ctx.stroke();
      });
    }
    scales.y.ticks.forEach((t: any) => {
      const p = scales.y.getPixelForValue(t.value);
      ctx.beginPath();
      ctx.moveTo(r.left, p); ctx.lineTo(r.left + len, p);
      ctx.moveTo(r.right, p); ctx.lineTo(r.right - len, p);
      ctx.stroke();
    });
    ctx.lineWidth = 2;
    ctx.strokeRect(r.left, r.top, r.right - r.left, r.bottom - r.top);
    if (o.heavy) {
      ctx.lineWidth = 4.5;
      ctx.strokeStyle = "#0a0a0a";
      ctx.beginPath();
      ctx.moveTo(r.left, r.bottom); ctx.lineTo(r.right, r.bottom);
      ctx.stroke();
    }
    ctx.restore();
  },
};

const tickFont = { family: FONT, size: 74 };

function panelConfig(layers: Layer[], colors: string[], b: any, extra: { xTitle?: string; yTitle?: string }) {
  const datasets = layers.map(([band, pts]) => {
    const data: { x: number; y: number }[] = [];
    for (let i = 0; i < pts.length; i += 2) data.push({ x: pts[i], y: pts[i + 1] });
    data.push({ x: pts[0], y: pts[1] });
    return { data, showLine: true, fill: "shape", tension: 0, pointRadius: 0, pointHoverRadius: 0, backgroundColor: colors[band], borderColor: "#0c0c0c", borderWidth: 2, borderJoinStyle: "round" };
  });
  datasets.reverse();
  return {
    type: "scatter",
    data: { datasets },
    plugins: [framePlugin],
    options: {
      animation: false, responsive: false, events: [],
      layout: { padding: { left: 0, right: b.w - b.right, top: b.top, bottom: 0 } },
      plugins: { legend: { display: false }, tooltip: { enabled: false }, frame: { tick: 28, heavy: true } },
      scales: {
        x: {
          type: "linear", min: 3, max: 19,
          grid: { display: false }, border: { display: false },
          afterBuildTicks(s: any) { s.ticks = dayTicks.map((value) => ({ value })); },
          afterFit(s: any) { s.height = b.h - b.bottom; },
          ticks: { font: tickFont, color: "#000", padding: b.xPad, maxRotation: 0, autoSkip: false, callback: (v: any) => String(v) },
          title: { display: !!extra.xTitle, text: extra.xTitle || "", color: "#000", font: tickFont, padding: { top: 0, bottom: 10 } },
        },
        y: {
          type: "linear", min: 0, max: 4,
          grid: { display: false }, border: { display: false },
          afterBuildTicks(s: any) { s.ticks = altTicks.map((value) => ({ value })); },
          afterFit(s: any) { s.width = b.left; },
          ticks: { font: tickFont, color: "#000", padding: b.yPad, labelOffset: b.yOff, autoSkip: false, callback: (v: any) => String(v) },
          title: { display: !!extra.yTitle, text: extra.yTitle || "", color: "#000", font: tickFont, padding: { top: 18, bottom: 0 } },
        },
      },
    },
  };
}

function barConfig(ticks: number[], min: number, max: number, b: any) {
  return {
    type: "bar",
    data: {
      labels: [""],
      datasets: [{
        data: [[min, max]],
        barPercentage: 1, categoryPercentage: 1, borderWidth: 0, borderSkipped: false,
        backgroundColor(c: any) {
          const a = c.chart.chartArea;
          if (!a) return "#000";
          const g = c.chart.ctx.createLinearGradient(0, a.bottom, 0, a.top);
          jetStops.forEach(([p, col]) => g.addColorStop(p, col));
          return g;
        },
      }],
    },
    plugins: [framePlugin],
    options: {
      animation: false, responsive: false, events: [],
      layout: { padding: { left: b.left, right: 0, top: b.top, bottom: b.h - b.bottom } },
      plugins: { legend: { display: false }, tooltip: { enabled: false }, frame: { tick: 7, heavy: false } },
      scales: {
        x: { display: false, grid: { display: false } },
        y: {
          type: "linear", position: "right", min, max,
          grid: { display: false }, border: { display: false },
          afterBuildTicks(s: any) { s.ticks = ticks.map((value) => ({ value })); },
          afterFit(s: any) { s.width = b.axis; },
          ticks: { font: tickFont, color: "#000", padding: 6, labelOffset: 10, autoSkip: false, callback: (v: any) => String(v) },
        },
      },
    },
  };
}

const panels = [
  { layers: aLayers, colors: tempColors, top: 0, b: { w: 3190, h: 640, left: 182, right: 3160, top: 86, bottom: 504, xPad: 15, yPad: 9, yOff: 10 }, extra: {}, bar: { ticks: barTicksTemp, min: -20, max: 5, b: { h: 570, left: 12, top: 84, bottom: 507, axis: 148 } } },
  { layers: bLayers, colors: tempColors, top: 570, b: { w: 3190, h: 640, left: 190, right: 3166, top: 75, bottom: 496, xPad: 15, yPad: 12, yOff: 12 }, extra: { yTitle: "Altitude (km)" }, bar: { ticks: barTicksTemp, min: -20, max: 5, b: { h: 560, left: 18, top: 75, bottom: 500, axis: 142 } } },
  { layers: cLayers, colors: pctColors, top: 1130, b: { w: 3190, h: 725, left: 190, right: 3166, top: 105, bottom: 524, xPad: 15, yPad: 12, yOff: 12 }, extra: { xTitle: "Time (Day of August)" }, bar: { ticks: barTicksPct, min: 0, max: 5, b: { h: 725, left: 18, top: 105, bottom: 528, axis: 142 } } },
];

const panelLabels = [
  { text: "(a)", left: 179, top: 7 },
  { text: "(b)", left: 187, top: 575 },
  { text: "(c)", left: 185, top: 1157 },
];

export default function App() {
  const mainRefs = useRef<(HTMLCanvasElement | null)[]>([]);
  const barRefs = useRef<(HTMLCanvasElement | null)[]>([]);
  useEffect(() => {
    const charts: Chart[] = [];
    panels.forEach((p, i) => {
      charts.push(new Chart(mainRefs.current[i] as any, panelConfig(p.layers, p.colors, p.b, p.extra) as any));
      charts.push(new Chart(barRefs.current[i] as any, barConfig(p.bar.ticks, p.bar.min, p.bar.max, p.bar.b) as any));
    });
    return () => charts.forEach((c) => c.destroy());
  }, []);
  return (
    <div style={{ position: "absolute", left: 0, top: 0, width: 3405, height: 1855, overflow: "hidden", background: "#fff" }}>
      {panels.map((p, i) => (
        <React.Fragment key={i}>
          <canvas ref={(el) => { mainRefs.current[i] = el; }} width={p.b.w} height={p.b.h} style={{ position: "absolute", left: 0, top: p.top, width: p.b.w, height: p.b.h }} />
          <canvas ref={(el) => { barRefs.current[i] = el; }} width={215} height={p.bar.b.h} style={{ position: "absolute", left: 3190, top: p.top, width: 215, height: p.bar.b.h }} />
        </React.Fragment>
      ))}
      {panelLabels.map((l) => (
        <span key={l.text} style={{ position: "absolute", left: l.left, top: l.top, font: `74px/74px ${FONT}`, color: "#000" }}>{l.text}</span>
      ))}
    </div>
  );
}
